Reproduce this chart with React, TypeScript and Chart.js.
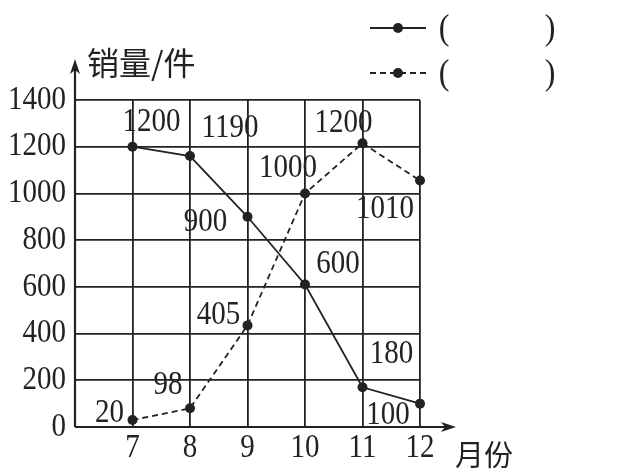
import React, { useEffect, useRef } from 'react';
import { Chart, registerables } from 'chart.js';
Chart.register(...registerables);

// ---- data ----
const months = [7, 8, 9, 10, 11, 12];
const solidValues = [1200, 1160, 900, 610, 170, 100];
const dashedValues = [30, 80, 435, 1000, 1215, 1055];
const solidLabels = ['1200', '1190', '900', '600', '180', '100'];
const dashedLabels = ['20', '98', '405', '1000', '1200', '1010'];
const yTickValues = [0, 200, 400, 600, 800, 1000, 1200, 1400];
const yTitle = '销量/件';
const xTitle = '月份';

// ---- styles ----
const INK = '#222';
const SERIF = '"Liberation Serif", "DejaVu Serif", serif';
const CJK = '"Noto Sans CJK SC", sans-serif';
const STRETCH = 1.15;
const solidOffsets = [[19, -24], [40, -28], [-42, 5], [33, -20], [29, -33], [-32, 12]];
const dashedOffsets = [[-23, -7], [-22, -23], [-29, -10], [-17, -25], [-19, -20], [-35, 29]];

function drawStretched(ctx: CanvasRenderingContext2D, text: string, x: number, y: number, align: CanvasTextAlign) {
  ctx.save();
  ctx.translate(x, y);
  ctx.scale(1, STRETCH);
  ctx.textAlign = align;
  ctx.textBaseline = 'middle';
  ctx.fillText(text, 0, 0);
  ctx.restore();
}

const decorPlugin = {
  id: 'decor',
  afterDraw(chart: any) {
    const ctx = chart.ctx as CanvasRenderingContext2D;
    const xs = chart.scales.x;
    const ys = chart.scales.y;
    const x0 = xs.getPixelForValue(6);
    const y0 = ys.getPixelForValue(0);
    ctx.save();
    ctx.strokeStyle = INK;
    ctx.fillStyle = INK;
    ctx.lineWidth = 2.2;
    // axes
    ctx.beginPath();
    ctx.moveTo(x0, y0);
    ctx.lineTo(xs.getPixelForValue(12) + 30, y0);
    ctx.moveTo(x0, y0);
    ctx.lineTo(x0, ys.getPixelForValue(1400) - 35);
    ctx.stroke();
    // arrows
    const ax = xs.getPixelForValue(12) + 36;
    ctx.beginPath();
    ctx.moveTo(ax, y0);
    ctx.lineTo(ax - 15, y0 - 5);
    ctx.lineTo(ax - 11, y0);
    ctx.lineTo(ax - 15, y0 + 5);
    ctx.closePath();
    ctx.fill();
    const ay = ys.getPixelForValue(1400) - 41;
    ctx.beginPath();
    ctx.moveTo(x0, ay);
    ctx.lineTo(x0 - 5, ay + 15);
    ctx.lineTo(x0, ay + 11);
    ctx.lineTo(x0 + 5, ay + 15);
    ctx.closePath();
    ctx.fill();

    // titles
    ctx.textBaseline = 'middle';
    ctx.textAlign = 'left';
    ctx.font = `32px ${CJK}`;
    ctx.fillText(yTitle, x0 + 12, ay + 4);
    ctx.font = `29px ${CJK}`;
    ctx.fillText(xTitle, ax - 1, y0 + 28);

    // tick labels
    ctx.font = `29px ${SERIF}`;
    ys.ticks.forEach((t: any) => {
      drawStretched(ctx, String(t.value), x0 - 9, ys.getPixelForValue(t.value), 'right');
    });
    months.forEach((m) => {
      drawStretched(ctx, String(m), xs.getPixelForValue(m), y0 + 21, 'center');
    });

    // data labels
    const drawLabels = (idx: number, labels: string[], offs: number[][]) => {
      const meta = chart.getDatasetMeta(idx);
      meta.data.forEach((pt: any, i: number) => {
        drawStretched(ctx, labels[i], pt.x + offs[i][0], pt.y + offs[i][1], 'center');
      });
    };
    drawLabels(0, solidLabels, solidOffsets);
    drawLabels(1, dashedLabels, dashedOffsets);

    // legend
    const drawLegend = (y: number, dash: number[]) => {
      ctx.lineWidth = 1.8;
      ctx.setLineDash(dash);
      ctx.beginPath();
      ctx.moveTo(370, y);
      ctx.lineTo(426, y);
      ctx.stroke();
      ctx.setLineDash([]);
      ctx.beginPath();
      ctx.arc(398, y, 5, 0, Math.PI * 2);
      ctx.fill();
      ctx.font = `32px ${SERIF}`;
      drawStretched(ctx, '(', 444, y + 1, 'center');
      drawStretched(ctx, ')', 550, y + 1, 'center');
    };
    drawLegend(28, []);
    drawLegend(73, [6, 4]);
    ctx.restore();
  },
};

export default function App() {
  const ref = useRef<HTMLCanvasElement>(null);
  useEffect(() => {
    document.body.style.margin = '0';
    const chart = new Chart(ref.current!, {
      type: 'line',
      data: {
        datasets: [
          {
            data: months.map((m, i) => ({ x: m, y: solidValues[i] })),
            borderColor: INK,
            backgroundColor: INK,
            borderWidth: 1.8,
            pointRadius: 5,
            pointBackgroundColor: INK,
            pointBorderWidth: 0,
            tension: 0,
            clip: false,
          },
          {
            data: months.map((m, i) => ({ x: m, y: dashedValues[i] })),
            borderColor: INK,
            backgroundColor: INK,
            borderWidth: 1.8,
            borderDash: [6, 4],
            pointRadius: 5,
            pointBackgroundColor: INK,
            pointBorderWidth: 0,
            tension: 0,
            clip: false,
          },
        ],
      },
      options: {
        animation: false,
        responsive: false,
        layout: { padding: { top: 100, right: 205, left: 0, bottom: 0 } },
        plugins: { legend: { display: false }, tooltip: { enabled: false } },
        scales: {
          x: {
            type: 'linear',
            min: 6,
            max: 12,
            afterFit: (s: any) => { s.height = 49; },
            grid: { color: INK, lineWidth: 1.8, drawTicks: false },
            border: { display: false },
            ticks: { stepSize: 1, display: false },
          },
          y: {
            min: 0,
            max: 1400,
            afterFit: (s: any) => { s.width = 75; },
            afterBuildTicks: (s: any) => { s.ticks = yTickValues.map((v) => ({ value: v })); },
            grid: { color: INK, lineWidth: 1.8, drawTicks: false },
            border: { display: false },
            ticks: { display: false },
          },
        },
      },
      plugins: [decorPlugin],
    } as any);
    return () => chart.destroy();
  }, []);
  return (
    <div style={{ width: 625, height: 476 }}>
      <canvas ref={ref} width={625} height={476} />
    </div>
  );
}
